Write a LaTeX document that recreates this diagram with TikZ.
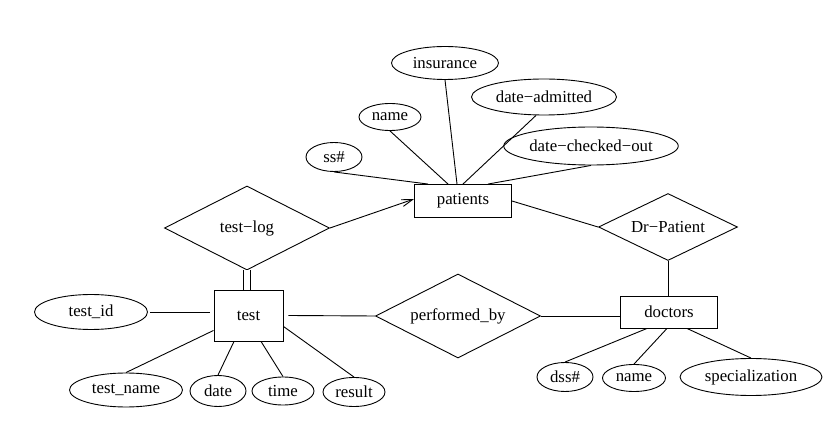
\documentclass[tikz,border=0pt]{standalone}
\usepackage{fontspec}
\setmainfont{Liberation Serif}
\usetikzlibrary{shapes.geometric,arrows.meta}

\begin{document}
\begin{tikzpicture}[x=1pt,y=-1pt,line width=0.9pt,
  every node/.style={inner sep=0pt,font=\fontsize{16.8}{20}\selectfont},
  ent/.style={draw,rectangle,minimum width=#1},
  attr/.style={draw,ellipse},
  rel/.style={draw,diamond,aspect=2.5,minimum width=165pt,minimum height=84pt}]
\useasboundingbox (0,0) rectangle (838,443);
\node[attr,minimum width=107pt,minimum height=33pt] (ins) at (445,63) {insurance};
\node[attr,minimum width=145pt,minimum height=36pt] (dadm) at (544,97) {date−admitted};
\node[attr,minimum width=62pt,minimum height=27pt] (pname) at (390,117) {name};
\node[attr,minimum width=56pt,minimum height=29pt] (ss) at (334,157) {ss\#};
\node[attr,minimum width=143pt,minimum height=38pt] (dco) at (591,146) {date−checked−out};
\node[ent=97pt,minimum height=33pt] (pat) at (463,201) {patients};
\node[rel] (tlog) at (247,228) {test−log};
\node[rel,minimum width=139pt,minimum height=67pt] (drp) at (668,227) {Dr−Patient};
\node[ent=69pt,minimum height=51pt] (tst) at (248.5,315.5) {test};
\node[rel] (perf) at (458,316) {performed\_by};
\node[ent=97pt,minimum height=32pt] (doc) at (669,312) {doctors};
\node[attr,minimum width=113pt,minimum height=35pt] (tid) at (91,312) {test\_id};
\node[attr,minimum width=113pt,minimum height=34pt] (tname) at (126,390) {test\_name};
\node[attr,minimum width=56pt,minimum height=31pt] (tdate) at (218,391) {date};
\node[attr,minimum width=62pt,minimum height=28pt] (ttime) at (283,391) {time};
\node[attr,minimum width=62pt,minimum height=29pt] (tres) at (354,392) {result};
\node[attr,minimum width=56pt,minimum height=29pt] (dss) at (565,377) {dss\#};
\node[attr,minimum width=63pt,minimum height=27pt] (dname) at (634,378) {name};
\node[attr,minimum width=142pt,minimum height=37pt] (spec) at (751,377) {specialization};
\draw (ss.south) -- ([xshift=-35pt]pat.north);
\draw (pname.south) -- ([xshift=-15pt]pat.north);
\draw (ins.south) -- ([xshift=-6pt]pat.north);
\draw ([xshift=-8pt]dadm.south) -- (pat.north);
\draw (dco.south) -- ([xshift=25pt]pat.north);
\draw[-{Straight Barb[length=11pt,width=7pt]}] (tlog.east) -- ([yshift=2pt]pat.west);
\draw (pat.east) -- (drp.west);
\draw (drp.south) -- (drp.south |- doc.north);
\draw[double,double distance=5.5pt] (tlog.south) -- (tlog.south |- tst.north);
\draw ([xshift=5pt]tst.east) -- (perf.west);
\draw (perf.east) -- (perf.east -| doc.west);
\draw[shorten <=2pt,shorten >=4pt] (tid.east) -- (tid.east -| tst.west);
\draw (tname.north) -- ([yshift=11pt]tst.south west);
\draw (tdate.north) -- ([xshift=-14.5pt]tst.south);
\draw (ttime.north) -- ([xshift=12.5pt]tst.south);
\draw (tres.north) -- ([yshift=15pt]tst.south east);
\draw (dss.north) -- ([xshift=-22pt]doc.south);
\draw (dname.north) -- ([xshift=-2pt]doc.south);
\draw (spec.north) -- ([xshift=18pt]doc.south);
\end{tikzpicture}
\end{document}
